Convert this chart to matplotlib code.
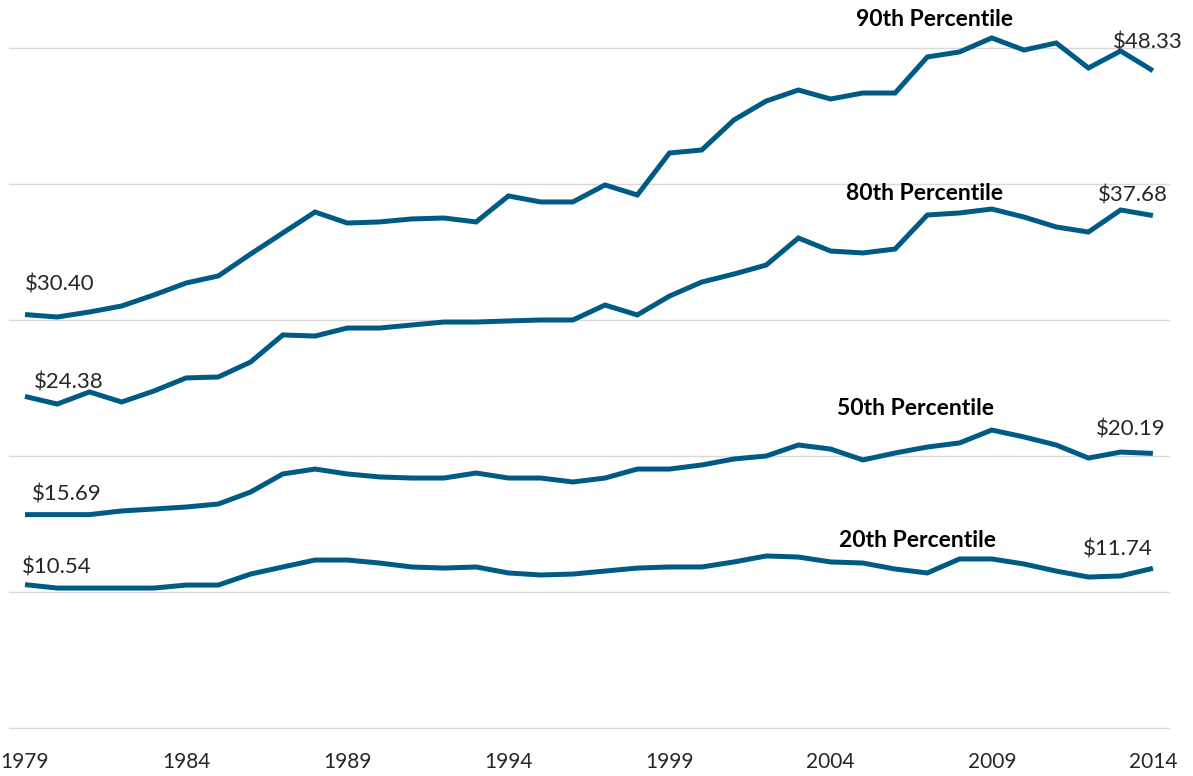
import matplotlib
matplotlib.use("Agg")
import matplotlib.pyplot as plt
import numpy as np

years = list(range(1979, 2015))

p90 = [30.40, 30.22, 30.59, 31.03, 31.84, 32.72, 33.24, 34.85, 36.40, 37.94,
       37.13, 37.21, 37.43, 37.50, 37.21, 39.12, 38.68, 38.68, 39.93, 39.19,
       42.28, 42.50, 44.71, 46.10, 46.91, 46.25, 46.69, 46.69, 49.34, 49.71,
       50.74, 49.85, 50.37, 48.53, 49.78, 48.33]
p80 = [24.38, 23.82, 24.71, 23.97, 24.78, 25.74, 25.81, 26.91, 28.90, 28.82,
       29.41, 29.41, 29.63, 29.85, 29.85, 29.93, 30.00, 30.00, 31.10, 30.37,
       31.76, 32.79, 33.38, 34.04, 36.03, 35.07, 34.93, 35.22, 37.72, 37.87,
       38.16, 37.57, 36.84, 36.47, 38.09, 37.68]
p50 = [15.69, 15.69, 15.69, 15.96, 16.10, 16.25, 16.47, 17.35, 18.68, 19.04,
       18.68, 18.46, 18.38, 18.38, 18.75, 18.38, 18.38, 18.09, 18.38, 19.04,
       19.04, 19.34, 19.78, 20.00, 20.81, 20.51, 19.71, 20.22, 20.66, 20.96,
       21.91, 21.40, 20.81, 19.85, 20.29, 20.19]
p20 = [10.54, 10.29, 10.29, 10.29, 10.29, 10.51, 10.51, 11.32, 11.84, 12.35,
       12.35, 12.13, 11.84, 11.76, 11.84, 11.40, 11.25, 11.32, 11.54, 11.76,
       11.84, 11.84, 12.21, 12.65, 12.57, 12.21, 12.13, 11.69, 11.40, 12.43,
       12.43, 12.06, 11.54, 11.10, 11.18, 11.74]

series = [("90th Percentile", p90), ("80th Percentile", p80),
          ("50th Percentile", p50), ("20th Percentile", p20)]

tick_years = [1979, 1984, 1989, 1994, 1999, 2004, 2009, 2014]
grid_values = [0, 10, 20, 30, 40, 50]

LINE_COLOR = "#005b84"
FONT = ["Lato", "DejaVu Sans"]

fig = plt.figure(figsize=(11.93, 7.76), dpi=100)
ax = fig.add_axes([8.9 / 1193, 48 / 776, (1169 - 8.9) / 1193, (776 - 7.2 - 48) / 776])
ax.set_xlim(1978.5, 2014.5)
ax.set_ylim(0, 53)

for v in grid_values:
    ax.axhline(v, color="#d9d9d9", lw=1.0, zorder=1, clip_on=False)

for name, vals in series:
    ax.plot(years, vals, color=LINE_COLOR, lw=3.6, solid_joinstyle="miter",
            solid_capstyle="butt", zorder=3)

# start / end value labels
start_pos = [(1979.0, 32.15), (1979.29, 25.0), (1979.23, 16.7), (1978.89, 11.35)]
end_pos = [(2012.77, 50.0), (2012.30, 38.7), (2012.24, 21.48), (2011.84, 12.72)]
name_pos = [(2007.21, 51.6), (2006.90, 38.8), (2006.63, 23.05), (2006.70, 13.3)]

for (name, vals), (sx, sy), (ex, ey), (nx, ny) in zip(series, start_pos, end_pos, name_pos):
    ax.text(sx, sy, f"${vals[0]:.2f}", ha="left", va="baseline", fontsize=16,
            color="#262626", family=FONT, clip_on=False, zorder=4)
    ax.text(ex, ey, f"${vals[-1]:.2f}", ha="left", va="baseline", fontsize=16,
            color="#262626", family=FONT, clip_on=False, zorder=4)
    ax.text(nx, ny, name, ha="center", va="baseline", fontsize=16.5,
            fontweight="bold", color="#000000", family=FONT, clip_on=False, zorder=4)

ax.set_xticks(tick_years)
ax.set_xticklabels([str(y) for y in tick_years], family=FONT, fontsize=15, color="#262626")
ax.tick_params(axis="x", length=0, pad=17)
ax.set_yticks([])
for s in ax.spines.values():
    s.set_visible(False)

fig.savefig("out.png", dpi=100, facecolor="white")
